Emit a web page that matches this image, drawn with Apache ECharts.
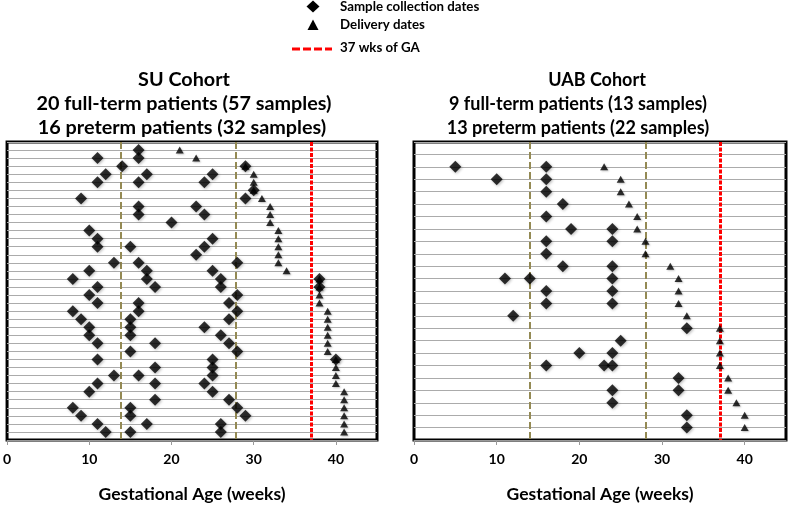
<!DOCTYPE html>
<html><head><meta charset="utf-8">
<script src="https://cdn.jsdelivr.net/npm/echarts@6/dist/echarts.min.js"></script>
<style>html,body{margin:0;padding:0;background:#fff}#c{width:790px;height:508px}</style>
</head><body><div id="c"></div>
<script>
// ---- data (weeks of gestational age), one row per patient, top to bottom ----
const xTicks = [0, 10, 20, 30, 40];

const suSamples = [
  [16], [11, 16], [14, 29], [12, 17, 25], [11, 16, 24], [30], [9, 29], [16, 23],
  [16, 24], [20], [10], [11, 25], [11, 15, 24], [23], [13, 16, 28], [10, 17, 25],
  [8, 17, 26, 38], [11, 18, 26, 38], [10, 28], [11, 16, 27], [8, 16, 28], [9, 15, 27],
  [10, 15, 24], [10, 15, 26], [11, 18, 27], [15, 28], [11, 25, 40], [18, 25],
  [13, 16, 25], [11, 18, 24], [10, 25], [18, 27], [8, 15, 28], [9, 15, 29],
  [11, 17, 26], [12, 15, 26]
];
const suDelivery = [
  21, 23, 29, 30, 30, 30, 31, 32, 32, 32, 33, 33, 33, 33, 33, 34,
  38, 38, 38, 38, 39, 39, 39, 39, 39, 39, 40, 40, 40, 40, 41, 41, 41, 41, 41, 41
];

const uabSamples = [
  [], [5, 16], [10, 16], [16], [18], [16], [19, 24], [16, 24], [16], [18, 24],
  [11, 14, 24], [16, 24], [16, 24], [12], [33], [25], [20, 24], [16, 23, 24],
  [32], [24, 32], [24], [33], [33]
];
const uabDelivery = [
  null, 23, 25, 25, 26, 27, 27, 28, 28, 31, 32, 32, 32, 33,
  37, 37, 37, 37, 38, 38, 39, 40, 40
];

const suTrimesterWeeks = [13.8, 27.8];
const uabTrimesterWeeks = [14, 28];
const termWeek = 37;

const suTitle = ['SU Cohort', '20 full-term patients (57 samples)', '16 preterm patients (32 samples)'];
const uabTitle = ['UAB Cohort', '9 full-term patients (13 samples)', '13 preterm patients (22 samples)'];

// ---- build ----
function samplePoints(rows) {
  const out = [];
  rows.forEach((r, i) => r.forEach(w => out.push([w, i])));
  return out;
}
function deliveryPoints(arr) {
  const out = [];
  arr.forEach((w, i) => { if (w != null) out.push([w, i]); });
  return out;
}

const FONT = 'Lato';
const olive = '#948a54';
const red = '#ff0000';

function refLines(tri) {
  return {
    silent: true, z: 1, symbol: ['none', 'none'], label: { show: false },
    emphasis: { disabled: true },
    data: [
      { xAxis: tri[0], lineStyle: { color: olive, width: 2, type: [7, 3] } },
      { xAxis: tri[1], lineStyle: { color: olive, width: 2, type: [7, 3] } },
      { xAxis: termWeek, lineStyle: { color: red, width: 3, type: [4, 1.5] } }
    ]
  };
}

const grids = [
  { left: 4, top: 142, width: 373, height: 305 },
  { left: 414, top: 142, width: 372, height: 305 }
].map(g => Object.assign(g, { show: true, borderColor: '#000', borderWidth: 3, backgroundColor: '#fff', containLabel: false }));

function xAxis(idx) {
  return {
    gridIndex: idx, type: 'value', min: 0, max: 45, interval: 10,
    name: 'Gestational Age (weeks)', nameLocation: 'middle', nameGap: 45,
    nameTextStyle: { fontFamily: FONT, fontWeight: 'bold', fontSize: 17.5, color: '#000' },
    axisLine: { show: true, onZero: false, lineStyle: { color: '#999', width: 1 } },
    axisTick: { show: true, length: 5, lineStyle: { color: '#999' }, customValues: xTicks },
    axisLabel: { fontFamily: FONT, fontWeight: 'bold', fontSize: 14, color: '#000', margin: 12, customValues: xTicks },
    splitLine: { show: false }
  };
}
function yAxis(idx, n) {
  return {
    gridIndex: idx, type: 'value', min: -1, max: n, interval: 1, inverse: true,
    axisLine: { show: false, onZero: false }, axisTick: { show: false }, axisLabel: { show: false },
    splitLine: { show: true, lineStyle: { color: '#ababab', width: 1 } }
  };
}

const diamondStyle = { color: '#000', shadowBlur: 3, shadowColor: 'rgba(0,0,0,0.35)', shadowOffsetX: 1, shadowOffsetY: 1 };
const triStyle = { color: '#000', shadowBlur: 2, shadowColor: 'rgba(0,0,0,0.3)', shadowOffsetX: 1, shadowOffsetY: 1 };

function cohortSeries(idx, samples, delivery, tri) {
  return [
    {
      name: 'Delivery dates', type: 'scatter', xAxisIndex: idx, yAxisIndex: idx, z: 2,
      symbol: 'triangle', symbolSize: [8, 7], itemStyle: triStyle,
      data: deliveryPoints(delivery), markLine: refLines(tri)
    },
    {
      name: 'Sample collection dates', type: 'scatter', xAxisIndex: idx, yAxisIndex: idx, z: 3,
      symbol: 'diamond', symbolSize: 12, itemStyle: diamondStyle,
      data: samplePoints(samples)
    }
  ];
}

function titleLines(lines, centers, size) {
  const mids = [75, 99, 123];
  return lines.map((t, i) => ({
    text: t, left: centers[i], top: mids[i] - 12, textAlign: 'center',
    textStyle: { fontFamily: FONT, fontWeight: 'bold', fontSize: size, color: '#000', lineHeight: 24 }
  }));
}

const legendFont = 'bold 13.3px ' + FONT;
const option = {
  animation: false,
  backgroundColor: '#fff',
  title: titleLines(suTitle, [179, 179, 177], 19.8).concat(titleLines(uabTitle, [592, 573, 573], 18)),
  grid: grids,
  xAxis: [xAxis(0), xAxis(1)],
  yAxis: [yAxis(0, suDelivery.length), yAxis(1, uabDelivery.length)],
  series: cohortSeries(0, suSamples, suDelivery, suTrimesterWeeks)
    .concat(cohortSeries(1, uabSamples, uabDelivery, uabTrimesterWeeks)),
  graphic: [
    { type: 'polygon', shape: { points: [[313, 0.5], [319.5, 6.5], [313, 12.5], [306.5, 6.5]] }, style: { fill: '#000' } },
    { type: 'polygon', shape: { points: [[313, 19.5], [318.5, 30], [307.5, 30]] }, style: { fill: '#000' } },
    { type: 'line', shape: { x1: 292, y1: 49, x2: 332, y2: 49 }, style: { stroke: red, lineWidth: 3, lineDash: [8, 3] } },
    { type: 'text', x: 340, y: 6.5, style: { text: 'Sample collection dates', font: legendFont, fill: '#000', verticalAlign: 'middle' } },
    { type: 'text', x: 340, y: 25, style: { text: 'Delivery dates', font: legendFont, fill: '#000', verticalAlign: 'middle' } },
    { type: 'text', x: 340, y: 48, style: { text: '37 wks of GA', font: legendFont, fill: '#000', verticalAlign: 'middle' } }
  ]
};

const chart = echarts.init(document.getElementById('c'), null, { renderer: 'canvas' });
chart.setOption(option);
</script>
</body></html>
